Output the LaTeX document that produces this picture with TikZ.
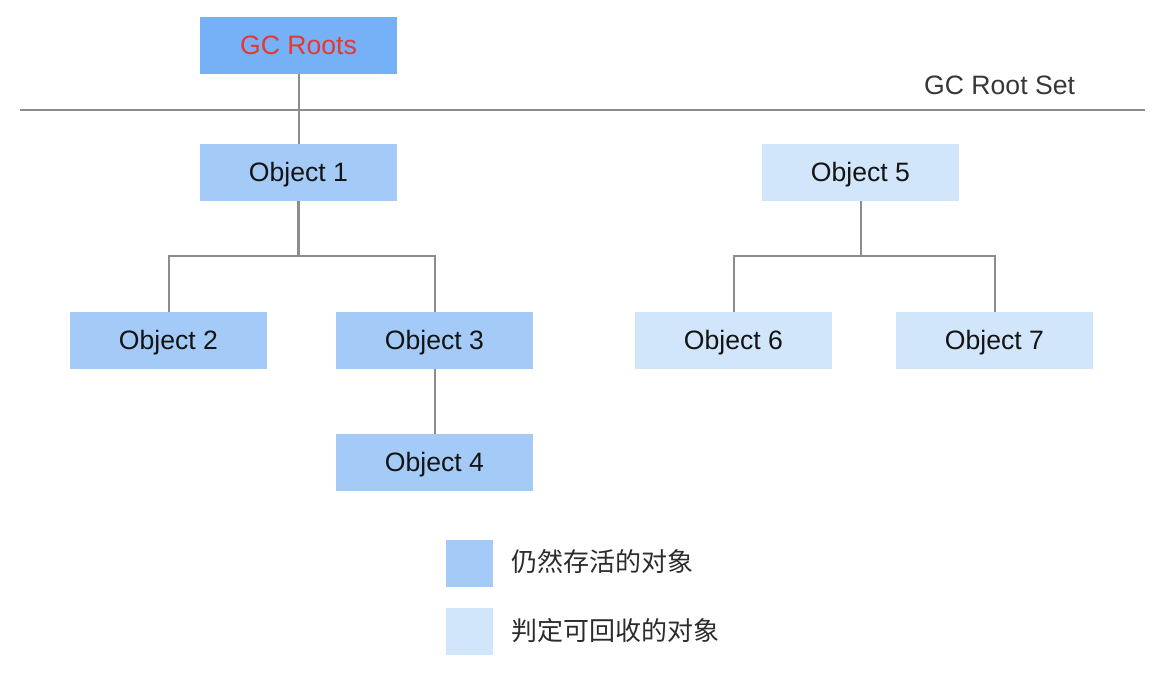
\documentclass[tikz,border=0pt]{standalone}
\usepackage{fontspec}
\setmainfont{Liberation Sans}
\newfontfamily\cjk{Noto Sans CJK SC}
\definecolor{rootblue}{HTML}{76B1F7}
\definecolor{liveblue}{HTML}{A4CBF8}
\definecolor{deadblue}{HTML}{D1E5FB}
\definecolor{linegray}{HTML}{8C8C8C}
\definecolor{rootred}{HTML}{E8372F}
\definecolor{txt}{HTML}{141414}
\begin{document}
\begin{tikzpicture}[x=1pt,y=-1pt,
  obj/.style={rectangle,minimum width=197pt,minimum height=57pt,inner sep=0pt,
    text height=18pt,text depth=0pt,
    text=txt,font=\fontsize{26.6}{30}\selectfont},
  live/.style={obj,fill=liveblue},
  dead/.style={obj,fill=deadblue},
  conn/.style={draw=linegray,line width=2pt},
  legbox/.style={rectangle,minimum width=47pt,minimum height=47pt,inner sep=0pt},
  legtxt/.style={anchor=west,inner sep=0pt,text=txt!90,font=\cjk\fontsize{26}{30}\selectfont}]
\useasboundingbox (0,0) rectangle (1168,674);
\fill[white] (0,0) rectangle (1168,674);
% nodes
\node[obj,fill=rootblue,text=rootred] (root) at (298.5,45.5) {GC Roots};
\node[live] (o1) at (298.5,172.5) {Object 1};
\node[live] (o2) at (168.5,340.5) {Object 2};
\node[live] (o3) at (434.5,340.5) {Object 3};
\node[live] (o4) at (434.5,462.5) {Object 4};
\node[dead] (o5) at (860.5,172.5) {Object 5};
\node[dead] (o6) at (733.5,340.5) {Object 6};
\node[dead] (o7) at (994.5,340.5) {Object 7};
% root set line
\coordinate (setl) at (20,110);
\coordinate (setr) at (1145,110);
\draw[conn] (setl) -- (setr);
\node[anchor=base west,inner sep=0pt,text=txt!85,font=\fontsize{26.6}{30}\selectfont] (setlabel) at (924,94.5) {GC Root Set};
% connectors
\draw[conn] (root.south) -- (o1.north);
\coordinate (b1) at (298.5,256);
\coordinate (b5) at (860.5,256);
\draw[conn,line width=2.6pt] (o1.south) -- (b1);
\draw[conn] (o2.north) |- (b1) -| (o3.north);
\draw[conn] (o3.south) -- (o4.north);
\draw[conn] (o5.south) -- (b5);
\draw[conn] (o6.north) |- (b5) -| (o7.north);
% legend
\node[legbox,fill=liveblue] (lg1) at (469.5,563.5) {};
\node[legbox,fill=deadblue] (lg2) at (469.5,631.5) {};
\node[legtxt] (lt1) at (511,562) {仍然存活的对象};
\node[legtxt] (lt2) at (511,631) {判定可回收的对象};
\end{tikzpicture}
\end{document}
